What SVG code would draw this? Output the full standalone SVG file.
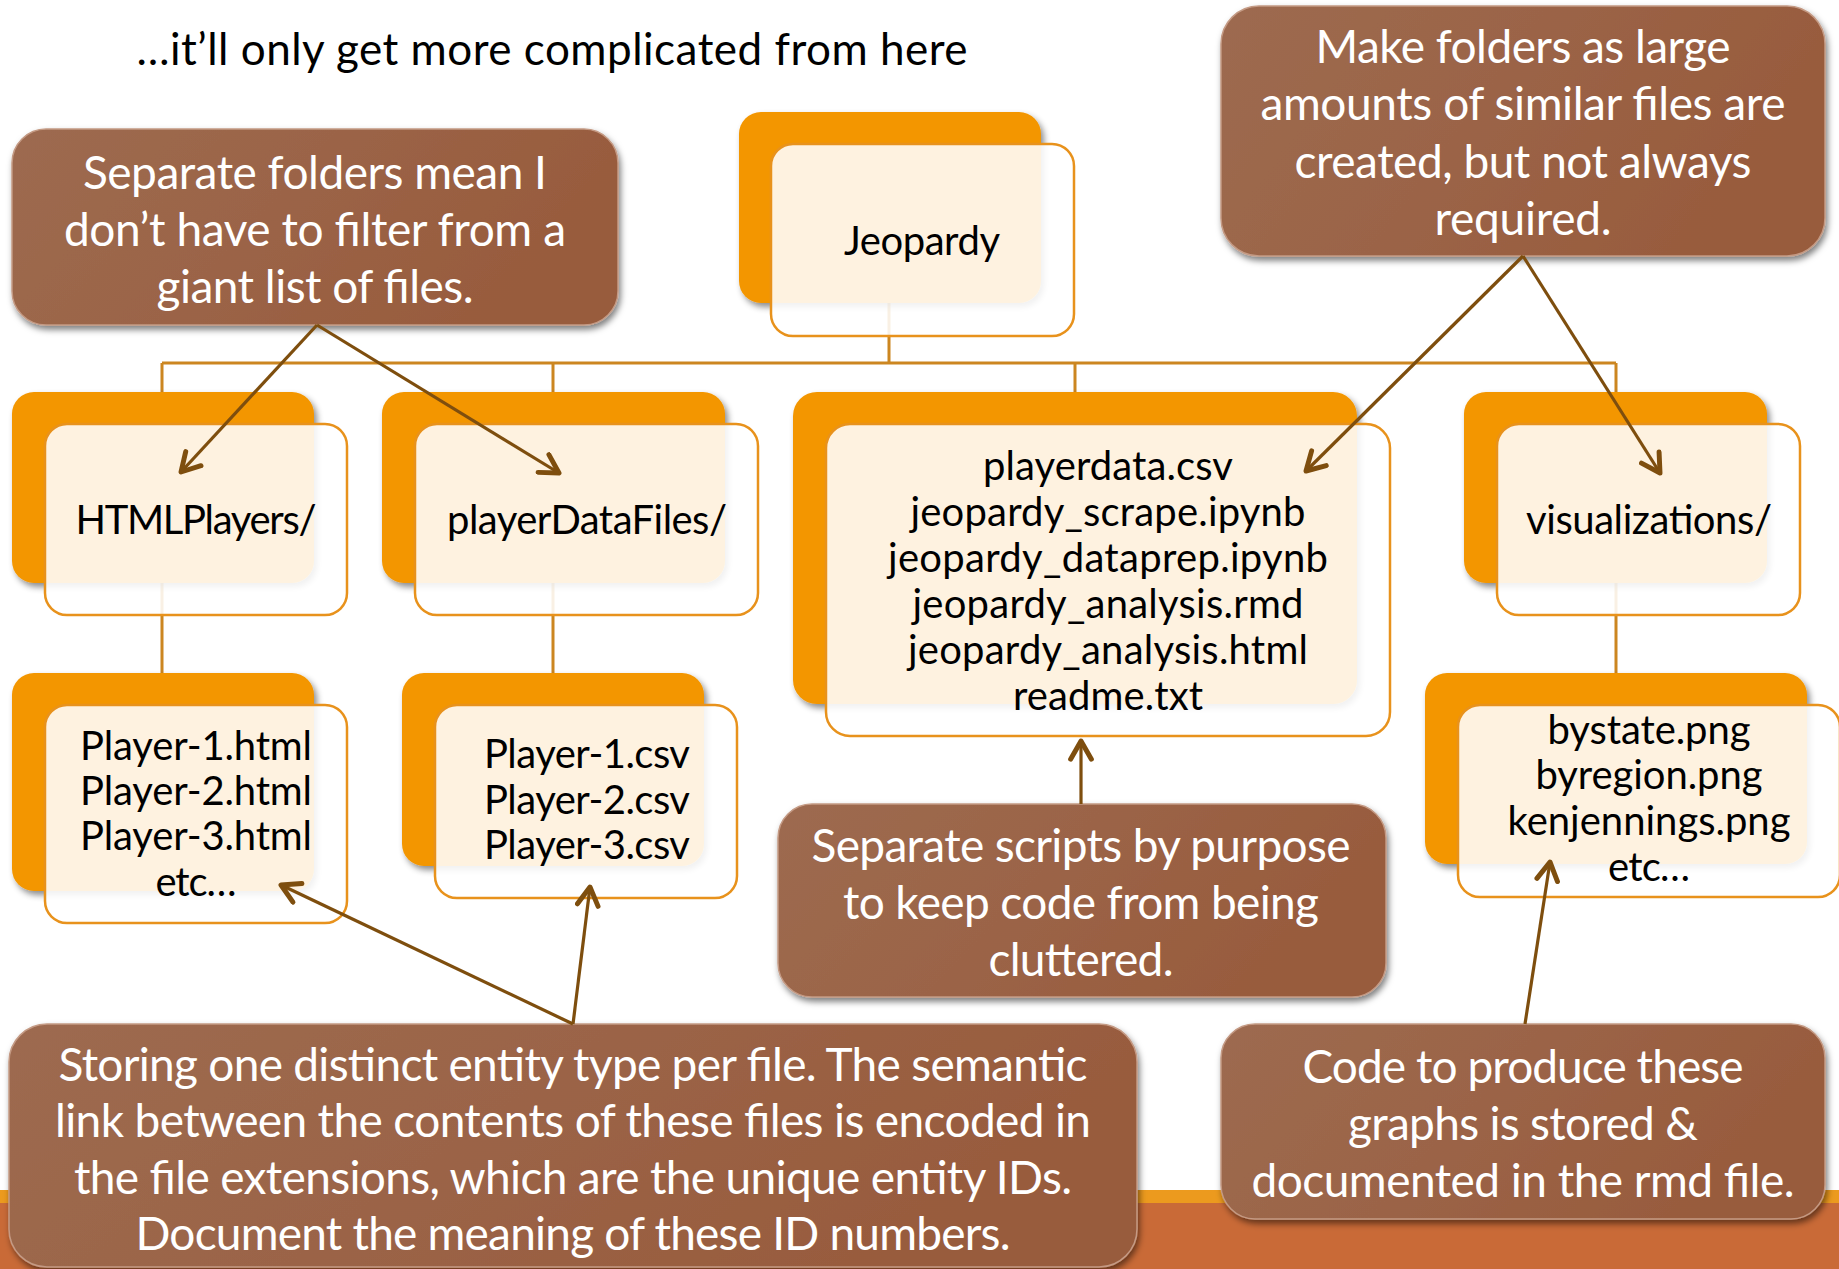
<svg xmlns="http://www.w3.org/2000/svg" width="1839" height="1269" viewBox="0 0 1839 1269">
<defs>
<style>
.sub{font-family:Lato,"Liberation Sans",sans-serif;font-size:44px;fill:#000;text-anchor:middle}
.ft{font-family:Lato,"Liberation Sans",sans-serif;font-size:40px;fill:#000;text-anchor:middle}
.ct{font-family:Lato,"Liberation Sans",sans-serif;font-size:46px;fill:#fff;text-anchor:middle}
.back{fill:#F39604;filter:url(#sh)}
.front{fill:#fff;fill-opacity:0.88;stroke:#E8921C;stroke-width:2.5}
.tree{stroke:#CC8620;stroke-width:3;fill:none}
.arr{stroke:#7E4E0E;stroke-width:3.2;fill:none;marker-end:url(#ah)}
.call{fill:url(#bg);stroke:#C49A84;stroke-width:1.5;filter:url(#csh)}
</style>
<filter id="sh" x="-10%" y="-10%" width="125%" height="130%">
<feDropShadow dx="3" dy="4" stdDeviation="3" flood-color="#000" flood-opacity="0.45"/>
</filter>
<filter id="csh" x="-10%" y="-10%" width="125%" height="130%">
<feDropShadow dx="2" dy="4" stdDeviation="3" flood-color="#000" flood-opacity="0.5"/>
</filter>
<linearGradient id="bg" x1="0" y1="0" x2="1" y2="0.3">
<stop offset="0" stop-color="#9D6A50"/>
<stop offset="0.5" stop-color="#9B6447"/>
<stop offset="1" stop-color="#985B3D"/>
</linearGradient>
<marker id="ah" viewBox="0 0 20 20" refX="17" refY="10" markerWidth="26" markerHeight="26" markerUnits="userSpaceOnUse" orient="auto">
<path d="M3,2 L17,10 L3,18" fill="none" stroke="#7E4E0E" stroke-width="3.8" stroke-linecap="round" stroke-linejoin="round"/>
</marker>
</defs>
<rect x="0" y="0" width="1839" height="1269" fill="#fff"/>
<g id="band">
<rect x="0" y="1190" width="1839" height="13" fill="#EC9A1E"/>
<rect x="0" y="1203" width="1839" height="66" fill="#C96A37"/>
</g>
<text class="sub" x="552" y="65" textLength="831">…it’ll only get more complicated from here</text>
<g id="connectors">
<path class="tree" d="M889,303 V363 M162,363 H1616 M162,363 V392 M553,363 V392 M1075,363 V392 M1616,363 V392 M162,583 V673 M553,583 V673 M1616,583 V673"/>
</g>
<g id="node-jeopardy">
<rect class="back" x="739" y="112" width="302" height="191" rx="22"/>
<rect class="front" x="771" y="144" width="303" height="192" rx="22"/>
<text class="ft" x="922" y="255" font-size="39" textLength="156">Jeopardy</text>
</g>
<g id="node-htmlplayers">
<rect class="back" x="12" y="392" width="302" height="191" rx="22"/>
<rect class="front" x="45" y="424" width="302" height="191" rx="22"/>
<text class="ft" x="196" y="534" textLength="241">HTMLPlayers/</text>
</g>
<g id="node-playerdatafiles">
<rect class="back" x="382" y="392" width="343" height="191" rx="22"/>
<rect class="front" x="415" y="424" width="343" height="191" rx="22"/>
<text class="ft" x="587" y="534" textLength="280">playerDataFiles/</text>
</g>
<g id="node-scripts">
<rect class="back" x="793" y="392" width="564" height="312" rx="24"/>
<rect class="front" x="826" y="424" width="564" height="312" rx="24"/>
<text class="ft" x="1108" y="480" textLength="250">playerdata.csv</text>
<text class="ft" x="1108" y="526" textLength="395">jeopardy_scrape.ipynb</text>
<text class="ft" x="1108" y="572" textLength="440">jeopardy_dataprep.ipynb</text>
<text class="ft" x="1108" y="618" textLength="391">jeopardy_analysis.rmd</text>
<text class="ft" x="1108" y="664" textLength="400">jeopardy_analysis.html</text>
<text class="ft" x="1108" y="710" textLength="190">readme.txt</text>
</g>
<g id="node-visualizations">
<rect class="back" x="1464" y="392" width="303" height="191" rx="22"/>
<rect class="front" x="1497" y="424" width="303" height="191" rx="22"/>
<text class="ft" x="1649" y="534" textLength="246">visualizations/</text>
</g>
<g id="node-htmlfiles">
<rect class="back" x="12" y="673" width="302" height="218" rx="22"/>
<rect class="front" x="45" y="705" width="302" height="218" rx="22"/>
<text class="ft" x="196" y="760" textLength="232">Player-1.html</text>
<text class="ft" x="196" y="805" textLength="232">Player-2.html</text>
<text class="ft" x="196" y="850" textLength="232">Player-3.html</text>
<text class="ft" x="196" y="896" textLength="81">etc…</text>
</g>
<g id="node-csvfiles">
<rect class="back" x="402" y="673" width="302" height="193" rx="22"/>
<rect class="front" x="435" y="705" width="302" height="193" rx="22"/>
<text class="ft" x="587" y="768" textLength="206">Player-1.csv</text>
<text class="ft" x="587" y="814" textLength="206">Player-2.csv</text>
<text class="ft" x="587" y="859" textLength="206">Player-3.csv</text>
</g>
<g id="node-pngfiles">
<rect class="back" x="1425" y="673" width="382" height="191" rx="22"/>
<rect class="front" x="1458" y="705" width="382" height="192" rx="22"/>
<text class="ft" x="1649" y="744" textLength="203">bystate.png</text>
<text class="ft" x="1649" y="789" textLength="227">byregion.png</text>
<text class="ft" x="1649" y="835" textLength="283">kenjennings.png</text>
<text class="ft" x="1649" y="881" textLength="82">etc…</text>
</g>
<g id="callout-folders">
<rect class="call" x="12" y="129" width="606" height="196" rx="34"/>
<text class="ct" x="315" y="189" textLength="464">Separate folders mean I</text>
<text class="ct" x="315" y="246" textLength="502">don’t have to filter from a</text>
<text class="ct" x="315" y="303" textLength="317">giant list of files.</text>
</g>
<g id="callout-large">
<rect class="call" x="1221" y="6" width="604" height="250" rx="38"/>
<text class="ct" x="1523" y="63" textLength="415">Make folders as large</text>
<text class="ct" x="1523" y="120" textLength="525">amounts of similar files are</text>
<text class="ct" x="1523" y="178" textLength="457">created, but not always</text>
<text class="ct" x="1523" y="235" textLength="177">required.</text>
</g>
<g id="callout-scripts">
<rect class="call" x="778" y="804" width="608" height="193" rx="34"/>
<text class="ct" x="1081" y="862" textLength="539">Separate scripts by purpose</text>
<text class="ct" x="1081" y="919" textLength="476">to keep code from being</text>
<text class="ct" x="1081" y="976" textLength="185">cluttered.</text>
</g>
<g id="callout-entity">
<rect class="call" x="9" y="1024" width="1128" height="243" rx="38"/>
<text class="ct" x="573" y="1081" textLength="1029">Storing one distinct entity type per file. The semantic</text>
<text class="ct" x="573" y="1137" textLength="1036">link between the contents of these files is encoded in</text>
<text class="ct" x="573" y="1194" textLength="998">the file extensions, which are the unique entity IDs.</text>
<text class="ct" x="573" y="1250" textLength="875">Document the meaning of these ID numbers.</text>
</g>
<g id="callout-code">
<rect class="call" x="1221" y="1024" width="604" height="195" rx="34"/>
<text class="ct" x="1523" y="1083" textLength="441">Code to produce these</text>
<text class="ct" x="1523" y="1140" textLength="350">graphs is stored &amp;</text>
<text class="ct" x="1523" y="1197" textLength="543">documented in the rmd file.</text>
</g>
<g id="callout-arrows">
<line class="arr" x1="317" y1="325" x2="181" y2="472"/>
<line class="arr" x1="317" y1="325" x2="559" y2="473"/>
<line class="arr" x1="1523" y1="256" x2="1306" y2="471"/>
<line class="arr" x1="1523" y1="256" x2="1660" y2="473"/>
<line class="arr" x1="1081" y1="804" x2="1081" y2="741"/>
<line class="arr" x1="573" y1="1024" x2="281" y2="885"/>
<line class="arr" x1="573" y1="1024" x2="590" y2="887"/>
<line class="arr" x1="1525" y1="1024" x2="1550" y2="862"/>
</g>
</svg>
